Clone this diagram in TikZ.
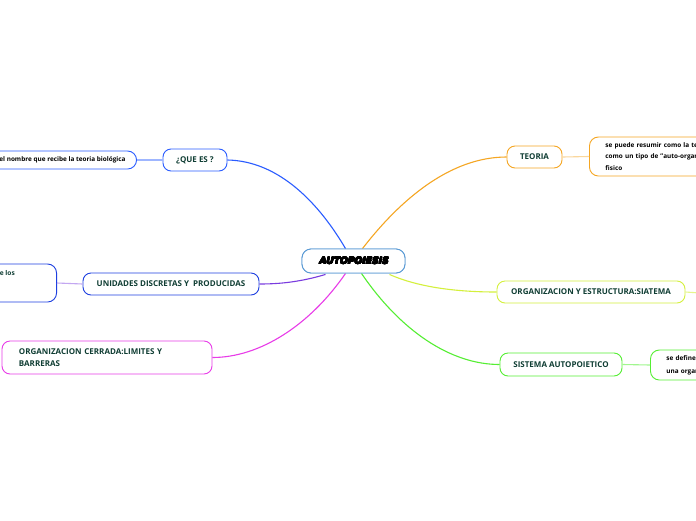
\documentclass[tikz,border=0pt]{standalone}
\usepackage{fontspec}
\usepackage{contour}
\contourlength{0.35pt}
\contournumber{16}
\setmainfont{Open Sans}
\newfontfamily\heavyfont[FakeSlant=0.22]{DejaVu Sans}
\definecolor{txt}{HTML}{0F3D33}
\definecolor{cblue}{HTML}{2A5CFF}
\definecolor{cpurp}{HTML}{7A3CDF}
\definecolor{cmag}{HTML}{E83CE8}
\definecolor{corange}{HTML}{F5A623}
\definecolor{cyel}{HTML}{D4F03C}
\definecolor{cgreen}{HTML}{55EE33}
\definecolor{cubl}{HTML}{1D3FE0}
\definecolor{ccen}{HTML}{5B9BD5}
\begin{document}
\begin{tikzpicture}[x=1pt,y=-1pt,
  mainbox/.style={draw, rounded corners=8pt, line width=0.9pt, fill=white, text=txt,
     font=\fontsize{8}{10}\selectfont\bfseries, inner sep=0pt},
  childbox/.style={draw, rounded corners=9pt, line width=0.9pt, fill=white, text=black,
     font=\fontsize{6.4}{11.2}\selectfont\bfseries, inner sep=0pt},
  cenbox/.style={draw=ccen, rounded corners=9pt, line width=0.9pt, fill=white, minimum width=103pt,
     minimum height=24pt, font=\heavyfont\fontsize{9.2}{10}\selectfont\bfseries},
  conn/.style={line width=1.1pt},
  sub/.style={line width=1.1pt}]
\useasboundingbox[fill=white] (0,0) rectangle (696,520);

% central
\node[cenbox] (c) at (353.5,261) {\contour{black}{AUTOPOIESIS}};

% level 1
\node[mainbox, draw=cblue, minimum width=64pt, minimum height=22pt] (q) at (195,160) {¿QUE ES ?};
\node[mainbox, draw=cubl, minimum width=176pt, minimum height=22pt] (u) at (171,284) {UNIDADES DISCRETAS Y\ \ PRODUCIDAS};
\node[mainbox, draw=cmag, minimum width=210pt, minimum height=33pt, text width=176pt, align=left,
  font=\fontsize{8}{12}\selectfont\bfseries] (o) at (107,357.5) {ORGANIZACION CERRADA:LIMITES Y\\BARRERAS};
\node[mainbox, draw=corange, minimum width=55pt, minimum height=22pt] (t) at (534.5,157) {TEORIA};
\node[mainbox, draw=cyel, minimum width=188pt, minimum height=22pt] (e) at (591,292) {ORGANIZACION Y ESTRUCTURA:SIATEMA};
\node[mainbox, draw=cgreen, minimum width=122pt, minimum height=23pt] (s) at (561,364.5) {SISTEMA AUTOPOIETICO};

% children
\node[childbox, draw=cblue, anchor=east, minimum height=18pt, inner xsep=11pt] (q1) at (137,160)
  {el nombre que recibe la teoria biológica};
\node[childbox, draw=cubl, anchor=east, minimum width=140pt, minimum height=38pt] (u1) at (57,283) {};
\node[anchor=base east, text=txt, font=\fontsize{6.6}{8}\selectfont\bfseries, inner sep=0pt] (u1t) at (15,275) {de los};
\node[childbox, draw=corange, anchor=west, minimum width=160pt, minimum height=39pt, text width=150pt,
  align=left, inner xsep=16pt] (t1) at (589,156.5)
  {se puede resumir como la teoría\\como un tipo de "auto-organización\\fisico};
\node[childbox, draw=cgreen, anchor=west, minimum width=120pt, minimum height=30pt, text width=110pt,
  align=left, inner xsep=16pt, font=\fontsize{6.4}{13}\selectfont\bfseries] (s1) at (650,365)
  {se define\\una organización};
\coordinate (e1) at (700,293);

% connectors level 1
\draw[conn, cblue] ([xshift=-8pt]c.north) .. controls (320,205) and (280,161) .. (q.east);
\draw[conn, corange] ([xshift=9pt]c.north) .. controls (400,200) and (450,157) .. (t.west);
\draw[conn, cyel] ([xshift=36pt,yshift=-1pt]c.south) .. controls (420,288) and (460,292) .. (e.west);
\draw[conn, cgreen] ([xshift=8pt]c.south) .. controls (400,330) and (450,364.5) .. (s.west);
\draw[conn, cpurp] ([xshift=-28pt,yshift=-1pt]c.south) .. controls (300,282) and (280,284) .. (u.east);
\draw[conn, cmag] ([xshift=-8pt]c.south) .. controls (310,325) and (260,357.5) .. (o.east);

% connectors level 2
\draw[sub, cblue!45] (q.west) -- (q1.east);
\draw[sub, cpurp!45] (u.west) -- (u1.east);
\draw[sub, corange!45] (t.east) -- (t1.west);
\draw[sub, cyel!60] (e.east) -- (e1);
\draw[sub, cgreen!55] (s.east) -- (s1.west);

% central box on top of connector ends
\node[cenbox] at (c) {\contour{black}{AUTOPOIESIS}};
\end{tikzpicture}
\end{document}
